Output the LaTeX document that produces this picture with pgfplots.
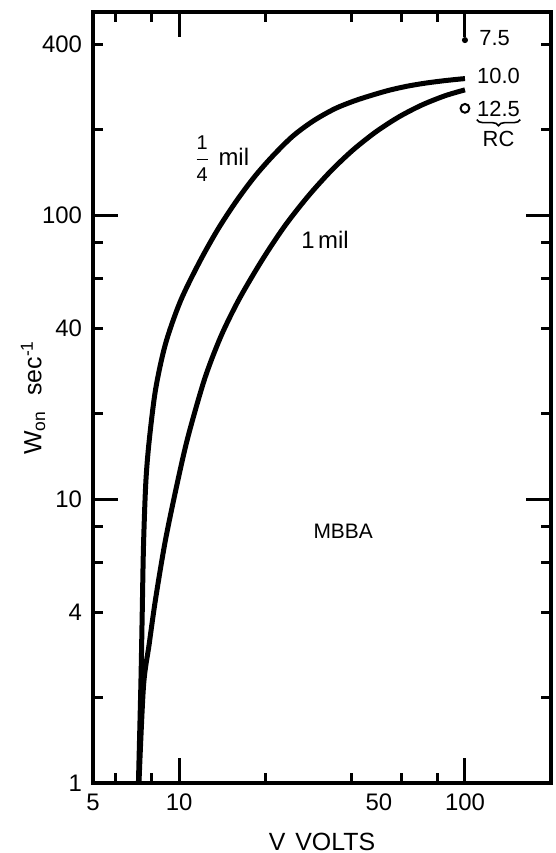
\documentclass[border=0pt]{standalone}
\usepackage{pgfplots}
\pgfplotsset{compat=1.18}
\usetikzlibrary{decorations.pathreplacing}
\usepackage{amsmath}
\usepackage{fontspec}
\setmainfont{Liberation Sans}

\begin{document}
\begin{tikzpicture}
\begin{axis}[
  name=ax,
  xmode=log, ymode=log,
  scale only axis,
  width=229bp, height=385.5bp,
  xmin=5, xmax=200, ymin=1, ymax=520,
  axis line style={line width=1.75bp},
  every tick/.style={black, line width=1.5bp},
  major tick length=12.5bp, minor tick length=5bp,
  tick align=inside,
  xtick={10,100}, xticklabels={10,100},
  minor xtick={6,8,20,40,60,80},
  extra x ticks={5,50}, extra x tick labels={5,50},
  ytick={10,100}, yticklabels={10,100},
  minor ytick={2,4,6,8,20,40,60,80,200,400},
  extra y ticks={1,4,40,400}, extra y tick labels={1,4,40,400},
  extra tick style={major tick length=0pt},
  ticklabel style={font=\fontsize{12}{14}\selectfont},
  xticklabel style={yshift=-2bp},
  yticklabel style={xshift=-2bp},
  xlabel={V\hspace{0.4em}VOLTS},
  ylabel={W\textsubscript{on}\hspace{0.6em}sec\textsuperscript{-1}},
  label style={font=\fontsize{12.5}{15}\selectfont},
  xlabel style={at={(axis description cs:0.5,-0.0765)}, anchor=center},
  ylabel style={at={(axis description cs:-0.131,0.5)}, anchor=center},
  clip=false,
]
% 1/4 mil
\addplot[black, line width=2.5bp, smooth] coordinates {
(7.21,1) (7.35,2.19) (7.43,3.87) (7.51,6.82) (7.65,11.4) (7.86,16) (8.28,24.4)
(8.97,35.3) (10.1,49.7) (11.75,68) (13.65,89) (15.85,112) (18.4,137) (21.3,162)
(25,190) (29.5,215) (35,237) (41.1,253) (48,266) (54.6,276) (63,285) (72.7,292)
(85,298) (100,303)
};
% 1 mil
\addplot[black, line width=2.5bp, smooth] coordinates {
(7.24,1) (7.51,2.19) (7.86,3.08) (8.28,4.46) (8.97,7.21) (9.97,12.0) (10.8,16.9)
(12.3,26.6) (14.0,37.4) (16.2,50.5) (19.5,69.4) (23.4,91.5) (28.2,116.3) (33.9,142.9)
(40.7,170.2) (49.0,197.3) (58.9,222.4) (70.8,244.7) (85.1,263.5) (100,276.5)
};
\addplot[only marks, mark=*, mark size=1.3bp, black] coordinates {(100,414)};
\addplot[only marks, mark=o, mark size=2.2bp, black, mark options={line width=1bp}] coordinates {(100,238)};

\node[anchor=west, inner sep=0, font=\fontsize{11}{13}\selectfont] at (axis cs:112,420) {7.5};
\node[anchor=west, inner sep=0, font=\fontsize{11}{13}\selectfont] at (axis cs:110,309) {10.0};
\node[anchor=north west, inner sep=0, font=\fontsize{11}{13}\selectfont] (t125) at (axis cs:110,254) {12.5};
\draw[line width=0.8bp, decorate, decoration={brace, mirror, amplitude=3bp}]
  ([yshift=-1.5bp]t125.south west) -- ([yshift=-1.5bp]t125.south east);
\node[anchor=north, inner sep=0, font=\fontsize{11}{13}\selectfont] at ([yshift=-7bp]t125.south) {RC};
\node[font=\fontsize{12}{14}\selectfont] at (axis cs:14.1,158) {$\genfrac{}{}{0.8pt}{0}{\mbox{\fontsize{10}{12}\selectfont 1}}{\mbox{\fontsize{10}{12}\selectfont 4}}$\hspace{0.35em}mil};
\node[font=\fontsize{12}{14}\selectfont] at (axis cs:32.4,82) {1\hspace{0.15em}mil};
\node[font=\fontsize{10.5}{12}\selectfont] at (axis cs:37.5,7.7) {MBBA};
\end{axis}
\pgfresetboundingbox
\path ([xshift=-46.5bp,yshift=-35bp]ax.south west) rectangle ([xshift=2.5bp,yshift=6bp]ax.north east);
\end{tikzpicture}
\end{document}
